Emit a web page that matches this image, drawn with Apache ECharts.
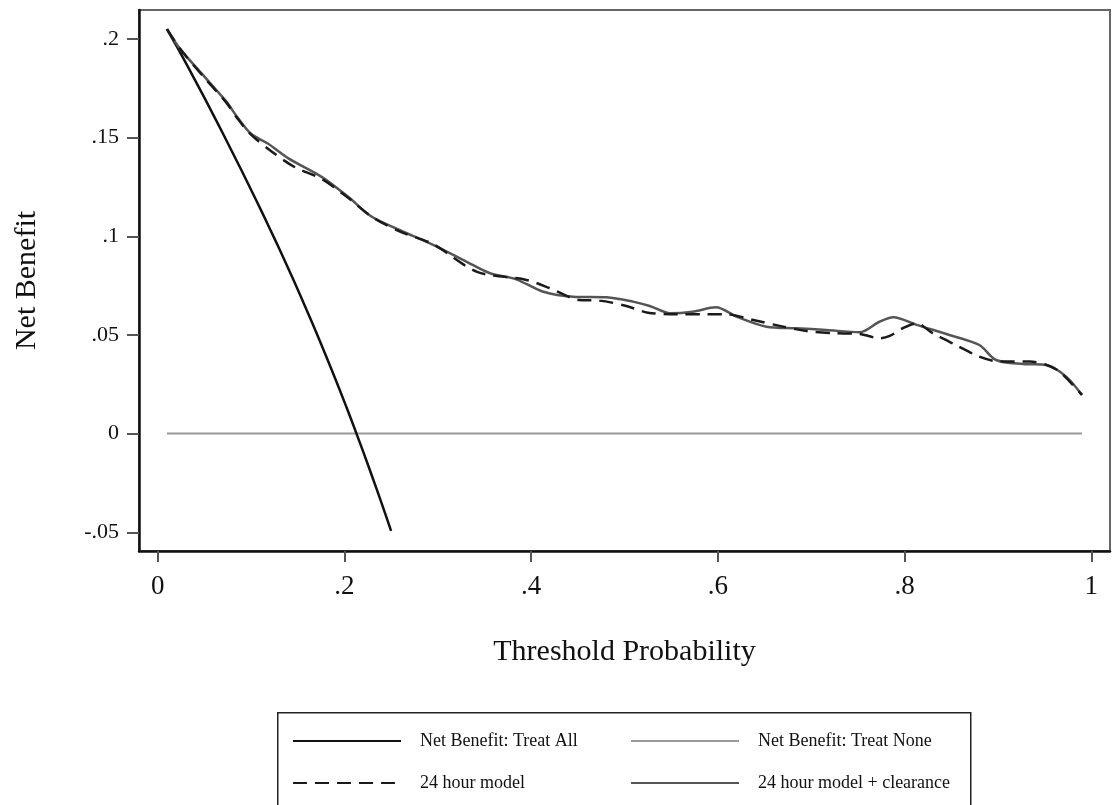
<!DOCTYPE html>
<html>
<head>
<meta charset="utf-8">
<script src="https://cdn.jsdelivr.net/npm/echarts@6/dist/echarts.min.js"></script>
<style>
html,body{margin:0;padding:0;background:#fff;}
#chart{width:1118px;height:805px;}
</style>
</head>
<body>
<div id="chart"></div>
<script>
// Tick values and labels
const xTicks = [0, 0.2, 0.4, 0.6, 0.8, 1];
const xTickLabels = ['0', '.2', '.4', '.6', '.8', '1'];
const yTicks = [-0.05, 0, 0.05, 0.1, 0.15, 0.2];
const yTickLabels = ['-.05', '0', '.05', '.1', '.15', '.2'];

// Net Benefit: Treat All
const treatAllX = [0.01,0.02,0.03,0.04,0.05,0.06,0.07,0.08,0.09,0.10,0.11,0.12,0.13,0.14,0.15,0.16,0.17,0.18,0.19,0.20,0.21,0.22,0.23,0.24,0.25];
const treatAllY = [0.2050,0.1966,0.1880,0.1792,0.1703,0.1612,0.1520,0.1426,0.1332,0.1236,0.1139,0.1040,0.0939,0.0836,0.0730,0.0622,0.0511,0.0397,0.0281,0.0161,0.0037,-0.0090,-0.0221,-0.0355,-0.0493];

// Net Benefit: Treat None
const treatNoneX = [0.01, 0.99];
const treatNoneY = [0, 0];

// 24 hour model (dashed)
const model24X = [0.01,0.024,0.047,0.063,0.074,0.085,0.10,0.122,0.147,0.176,0.204,0.229,0.259,0.295,0.342,0.395,0.42,0.452,0.473,0.502,0.525,0.559,0.588,0.609,0.638,0.666,0.695,0.723,0.752,0.773,0.784,0.798,0.813,0.83,0.855,0.88,0.902,0.934,0.952,0.966,0.99];
const model24Y = [0.205,0.195,0.182,0.1735,0.1675,0.160,0.1515,0.143,0.135,0.129,0.1195,0.110,0.1025,0.096,0.082,0.0779,0.0737,0.0677,0.0674,0.0647,0.0613,0.0605,0.0605,0.0605,0.0576,0.0546,0.052,0.0509,0.0505,0.0483,0.0495,0.0534,0.0559,0.0509,0.0449,0.039,0.0365,0.0365,0.0348,0.0314,0.0196];

// 24 hour model + clearance (solid gray)
const modelClrX = [0.01,0.024,0.047,0.063,0.074,0.085,0.10,0.118,0.14,0.176,0.204,0.229,0.259,0.295,0.331,0.356,0.384,0.413,0.445,0.481,0.509,0.527,0.549,0.573,0.598,0.62,0.652,0.684,0.716,0.752,0.773,0.788,0.813,0.848,0.88,0.898,0.927,0.952,0.973,0.99];
const modelClrY = [0.205,0.195,0.1826,0.174,0.168,0.1606,0.152,0.147,0.1395,0.130,0.120,0.110,0.1032,0.0956,0.0871,0.0813,0.0782,0.0719,0.0694,0.0691,0.0669,0.0647,0.0610,0.0618,0.0640,0.0593,0.0542,0.0534,0.0525,0.0514,0.0567,0.059,0.0551,0.050,0.0449,0.0373,0.0353,0.0348,0.0289,0.0196];

const seriesNames = ['Net Benefit: Treat All', 'Net Benefit: Treat None', '24 hour model', '24 hour model + clearance'];

function pairs(xs, ys) { return xs.map((x, i) => [x, ys[i]]); }
function lookup(ticks, labels, v) {
  for (let i = 0; i < ticks.length; i++) if (Math.abs(ticks[i] - v) < 1e-9) return labels[i];
  return '';
}

const FONT = '"Liberation Serif", "Times New Roman", serif';
const chart = echarts.init(document.getElementById('chart'), null, {renderer: 'canvas'});

const legendBase = {
  orient: 'horizontal', padding: 0, itemWidth: 108, itemHeight: 14,
  selectedMode: false,
  itemStyle: {color: 'rgba(0,0,0,0)', borderWidth: 0, opacity: 0},
  textStyle: {fontFamily: FONT, fontSize: 18, color: '#111', padding: [0, 0, 0, 14]}
};

chart.setOption({
  animation: false,
  backgroundColor: '#fff',
  grid: {left: 139, top: 10, right: 8, bottom: 254, show: true, borderColor: '#666', borderWidth: 2, backgroundColor: 'transparent'},
  xAxis: {
    type: 'value', min: -0.02, max: 1.02,
    name: 'Threshold Probability', nameLocation: 'middle', nameGap: 86,
    nameTextStyle: {fontFamily: FONT, fontSize: 30, color: '#111'},
    axisLine: {show: true, onZero: false, lineStyle: {color: '#111', width: 2.5}},
    axisTick: {show: true, customValues: xTicks, length: 11, lineStyle: {color: '#555', width: 2}},
    axisLabel: {customValues: xTicks, margin: 22, fontFamily: FONT, fontSize: 27, color: '#111',
      formatter: v => lookup(xTicks, xTickLabels, v)},
    splitLine: {show: false}
  },
  yAxis: {
    type: 'value', min: -0.0595, max: 0.2147,
    name: 'Net Benefit', nameLocation: 'middle', nameGap: 97, nameRotate: 90,
    nameTextStyle: {fontFamily: FONT, fontSize: 30, color: '#111'},
    axisLine: {show: true, onZero: false, lineStyle: {color: '#111', width: 2.5}},
    axisTick: {show: true, customValues: yTicks, length: 12, lineStyle: {color: '#555', width: 2}},
    axisLabel: {customValues: yTicks, margin: 20, fontFamily: FONT, fontSize: 22, color: '#111',
      formatter: v => lookup(yTicks, yTickLabels, v)},
    splitLine: {show: false}
  },
  legend: [
    Object.assign({}, legendBase, {data: [seriesNames[0]], left: 292, top: 732}),
    Object.assign({}, legendBase, {data: [seriesNames[1]], left: 630, top: 732}),
    Object.assign({}, legendBase, {data: [seriesNames[2]], left: 292, top: 774}),
    Object.assign({}, legendBase, {data: [seriesNames[3]], left: 630, top: 774})
  ],
  graphic: [{
    type: 'rect', left: 277, top: 712, z: -1,
    shape: {width: 693, height: 110},
    style: {fill: '#fff', stroke: '#222', lineWidth: 1.5}
  }],
  series: [
    {name: seriesNames[1], type: 'line', data: pairs(treatNoneX, treatNoneY), showSymbol: false, symbol: 'none',
      lineStyle: {color: '#999', width: 2}, itemStyle: {color: '#999'}},
    {name: seriesNames[0], type: 'line', data: pairs(treatAllX, treatAllY), showSymbol: false, symbol: 'none', smooth: 0.3,
      lineStyle: {color: '#111', width: 2.5}, itemStyle: {color: '#111'}},
    {name: seriesNames[3], type: 'line', data: pairs(modelClrX, modelClrY), showSymbol: false, symbol: 'none', smooth: 0.3,
      lineStyle: {color: '#555', width: 2.5}, itemStyle: {color: '#555'}},
    {name: seriesNames[2], type: 'line', data: pairs(model24X, model24Y), showSymbol: false, symbol: 'none', smooth: 0.3,
      lineStyle: {color: '#1a1a1a', width: 2.5, type: [14, 8]}, itemStyle: {color: '#1a1a1a'}}
  ]
});
</script>
</body>
</html>
